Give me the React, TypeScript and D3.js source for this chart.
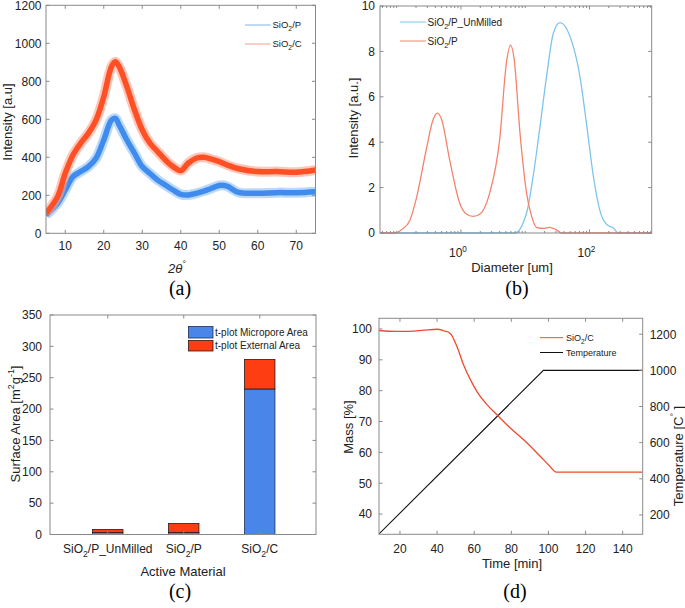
import React from 'react';
import * as d3 from 'd3';

// ---------- Data ----------
// (a) XRD
const xrdTheta = [5, 8, 10, 12, 14, 16, 18, 20, 22, 23, 24, 26, 28, 30, 32, 34, 36, 38, 40, 42, 44, 46, 48, 50, 52, 55, 60, 65, 70, 75];
const xrdSiO2C = [105, 193, 316, 412, 474, 526, 596, 719, 877, 903, 877, 772, 649, 544, 474, 430, 386, 351, 330, 370, 395, 400, 390, 377, 360, 340, 325, 325, 321, 333];
const xrdSiO2P = [96, 158, 228, 298, 325, 351, 395, 491, 596, 605, 570, 491, 421, 351, 315, 280, 254, 228, 205, 202, 210, 222, 237, 252, 248, 215, 211, 214, 214, 219];
const xrdXTicks = [10, 20, 30, 40, 50, 60, 70];
const xrdYTicks = [0, 200, 400, 600, 800, 1000, 1200];

// (b) Particle size distribution
const psdUnmilledD = [0.05, 6.9, 10.5, 13.3, 17, 21.5, 27.4, 34.7, 50, 71, 91, 115, 145, 186, 235, 282, 1000];
const psdUnmilledI = [0, 0, 0.88, 2.5, 4.7, 6.9, 8.8, 9.27, 8.65, 6.9, 4.7, 2.5, 1.0, 0.37, 0.22, 0, 0];
const psdMilledD = [0.05, 0.094, 0.12, 0.16, 0.2, 0.29, 0.36, 0.43, 0.5, 0.67, 0.96, 1.2, 1.55, 2.0, 2.8, 4.0, 5.1, 5.9, 6.7, 8.3, 10.5, 12.6, 15, 19, 24, 30, 37, 1000];
const psdMilledI = [0, 0, 0.15, 0.55, 1.47, 3.7, 4.9, 5.28, 5.0, 3.2, 1.3, 0.85, 0.73, 0.85, 1.76, 4.1, 7.5, 8.28, 7.7, 4.4, 1.76, 0.73, 0.25, 0.2, 0.25, 0.15, 0, 0];
const psdYTicks = [0, 2, 4, 6, 8, 10];
const psdMajorTicks = [1, 100];

// (c) Surface area
const saCategories = ['SiO2/P_UnMilled', 'SiO2/P', 'SiO2/C'];
const saMicropore = [3.2, 3.2, 232];
const saExternal = [4.8, 14.3, 47];
const saYTicks = [0, 50, 100, 150, 200, 250, 300, 350];

// (d) TGA
const tgaTime = [8.7, 18, 25, 33, 40, 43.6, 47, 50.7, 54.3, 58, 61.5, 67, 72.4, 79.6, 86.8, 95.8, 100, 104.3, 150.8];
const tgaMass = [99.5, 99.2, 99.2, 99.6, 99.9, 99.4, 98.6, 94.3, 88.3, 83.5, 79.7, 75.4, 72.1, 67.8, 64, 58.6, 56, 53.6, 53.6];
const tempTime = [8.7, 97.3, 150.8];
const tempValue = [95, 1000, 1000];
const tgaXTicks = [20, 40, 60, 80, 100, 120, 140];
const tgaLeftTicks = [40, 50, 60, 70, 80, 90, 100];
const tgaRightTicks = [200, 400, 600, 800, 1000, 1200];

// ---------- Style ----------
const AX = '#8a8a8a';
const TXT = '#222';
const SANS = '"Liberation Sans", Arial, Helvetica, sans-serif';
const SERIF = '"Liberation Serif", "Times New Roman", serif';
const TL = 3.5;

function SiO2({ rest, size }: { rest: string; size: number }) {
  return (
    <>
      <tspan>SiO</tspan>
      <tspan baselineShift={-size * 0.3} fontSize={size * 0.72}>2</tspan>
      <tspan>{rest}</tspan>
    </>
  );
}

function Sup({ children, size }: { children: React.ReactNode; size: number }) {
  return <tspan baselineShift={size * 0.45} fontSize={size * 0.68}>{children}</tspan>;
}

function Box({ l, r, t, b }: { l: number; r: number; t: number; b: number }) {
  return <rect x={l} y={t} width={r - l} height={b - t} fill="none" stroke={AX} strokeWidth={1} />;
}

export default function App() {
  // ----- Panel A -----
  const aL = 46, aR = 315.5, aT = 5.3, aB = 233.3;
  const ax = d3.scaleLinear().domain([5, 75]).range([aL, aR]);
  const ay = d3.scaleLinear().domain([0, 1200]).range([aB, aT]);
  const lineA = (vals: number[]) =>
    d3.line<number>().x((_, i) => ax(xrdTheta[i])).y((d) => ay(d)).curve(d3.curveCatmullRom)(vals) || '';

  // ----- Panel B -----
  const bL = 380, bR = 651.7, bT = 6, bB = 233;
  const bx = d3.scaleLog().domain([0.055, 930]).range([bL, bR]);
  const by = d3.scaleLinear().domain([0, 10]).range([bB, bT]);
  const lineB = (ds: number[], vs: number[]) =>
    d3.line<number>().x((_, i) => bx(ds[i])).y((d) => by(d)).curve(d3.curveMonotoneX)(vs) || '';
  const minorB: number[] = [];
  [0.01, 0.1, 1, 10, 100].forEach((dec) => {
    for (let k = 1; k <= 9; k++) {
      const v = dec * k;
      if (v >= 0.055 && v <= 930 && !psdMajorTicks.includes(v)) minorB.push(v);
    }
  });

  // ----- Panel C -----
  const cL = 50, cR = 316, cT = 315, cB = 534.5;
  const cx = d3.scaleLinear().domain([0.24, 3.74]).range([cL, cR]);
  const cy = d3.scaleLinear().domain([0, 350]).range([cB, cT]);
  const barW = cx(1.4) - cx(1);

  // ----- Panel D -----
  const dL = 379, dR = 642.7, dT = 318.3, dB = 534.3;
  const dx = d3.scaleLinear().domain([8.7, 150.8]).range([dL, dR]);
  const dyL = d3.scaleLinear().domain([33.45, 103.45]).range([dB, dT]);
  const dyR = d3.scaleLinear().domain([93, 1288]).range([dB, dT]);
  const massPath = d3.line<number>().x((_, i) => dx(tgaTime[i])).y((d) => dyL(d)).curve(d3.curveMonotoneX)(tgaMass) || '';
  const tempPath = d3.line<number>().x((_, i) => dx(tempTime[i])).y((d) => dyR(d))(tempValue) || '';

  const tick = { stroke: AX, strokeWidth: 1 };

  return (
    <svg width={685} height={608} style={{ position: 'absolute', left: 0, top: 0, background: '#fff' }} fontFamily={SANS}>
      <defs>
        <clipPath id="clipA"><rect x={aL} y={aT} width={aR - aL} height={aB - aT} /></clipPath>
        <clipPath id="clipB"><rect x={bL} y={bT - 2} width={bR - bL} height={bB - bT + 4} /></clipPath>
        <clipPath id="clipD"><rect x={dL} y={dT} width={dR - dL} height={dB - dT} /></clipPath>
      </defs>

      {/* ================= Panel A ================= */}
      <g>
        <g clipPath="url(#clipA)">
          <path d={lineA(xrdSiO2P)} fill="none" stroke="#8ec0f4" strokeWidth={10} strokeOpacity={0.6} />
          <path d={lineA(xrdSiO2P)} fill="none" stroke="#3f8cee" strokeWidth={5.5} />
          <path d={lineA(xrdSiO2C)} fill="none" stroke="#ffa28c" strokeWidth={10} strokeOpacity={0.6} />
          <path d={lineA(xrdSiO2C)} fill="none" stroke="#ff5025" strokeWidth={5.5} />
        </g>
        <Box l={aL} r={aR} t={aT} b={aB} />
        {xrdXTicks.map((v) => (
          <g key={'ax' + v}>
            <line x1={ax(v)} x2={ax(v)} y1={aB} y2={aB - TL} {...tick} />
            <line x1={ax(v)} x2={ax(v)} y1={aT} y2={aT + TL} {...tick} />
            <text x={ax(v)} y={aB + 17} textAnchor="middle" fontSize={12} fill={TXT}>{v}</text>
          </g>
        ))}
        {xrdYTicks.map((v) => (
          <g key={'ay' + v}>
            <line x1={aL} x2={aL + TL} y1={ay(v)} y2={ay(v)} {...tick} />
            <line x1={aR} x2={aR - TL} y1={ay(v)} y2={ay(v)} {...tick} />
            <text x={aL - 4.5} y={ay(v) + 4.3} textAnchor="end" fontSize={12} fill={TXT}>{v}</text>
          </g>
        ))}
        {/* legend */}
        <line x1={245} x2={270.5} y1={25} y2={25} stroke="#7fb4ec" strokeWidth={1} />
        <text x={272.5} y={28.3} fontSize={9.5} fill={TXT}><SiO2 rest="/P" size={9.5} /></text>
        <line x1={245} x2={270.5} y1={44} y2={44} stroke="#f79c8a" strokeWidth={1} />
        <text x={272.5} y={47.3} fontSize={9.5} fill={TXT}><SiO2 rest="/C" size={9.5} /></text>
        {/* labels */}
        <text transform={`translate(12,122) rotate(-90)`} textAnchor="middle" fontSize={13} fill={TXT}>Intensity [a.u]</text>
        <text x={177} y={273} textAnchor="middle" fontSize={13} fill={TXT}>
          <tspan fontStyle="italic">2θ</tspan>
          <Sup size={13}>°</Sup>
        </text>
        <text x={180} y={295} textAnchor="middle" fontSize={20} fontFamily={SERIF} fill="#000">(a)</text>
      </g>

      {/* ================= Panel B ================= */}
      <g>
        <g clipPath="url(#clipB)">
          <path d={lineB(psdUnmilledD, psdUnmilledI)} fill="none" stroke="#7cc4ee" strokeWidth={1.3} />
          <path d={lineB(psdMilledD, psdMilledI)} fill="none" stroke="#f5836c" strokeWidth={1.3} />
        </g>
        <Box l={bL} r={bR} t={bT} b={bB} />
        {psdMajorTicks.map((v, i) => (
          <g key={'bx' + v}>
            <line x1={bx(v)} x2={bx(v)} y1={bB} y2={bB - TL} {...tick} />
            <line x1={bx(v)} x2={bx(v)} y1={bT} y2={bT + TL} {...tick} />
            <text x={bx(v) - 3} y={256.5} textAnchor="middle" fontSize={12} fill={TXT}>
              10<Sup size={12}>{i === 0 ? '0' : '2'}</Sup>
            </text>
          </g>
        ))}
        {minorB.map((v) => (
          <g key={'bm' + v}>
            <line x1={bx(v)} x2={bx(v)} y1={bB} y2={bB - 2} {...tick} />
            <line x1={bx(v)} x2={bx(v)} y1={bT} y2={bT + 2} {...tick} />
          </g>
        ))}
        {psdYTicks.map((v) => (
          <g key={'by' + v}>
            <line x1={bL} x2={bL + TL} y1={by(v)} y2={by(v)} {...tick} />
            <line x1={bR} x2={bR - TL} y1={by(v)} y2={by(v)} {...tick} />
            <text x={bL - 5} y={by(v) + 4.3} textAnchor="end" fontSize={12} fill={TXT}>{v}</text>
          </g>
        ))}
        {/* legend */}
        <line x1={400} x2={426} y1={22} y2={22} stroke="#7cc4ee" strokeWidth={1} />
        <text x={427.5} y={25.5} fontSize={10} fill={TXT}><SiO2 rest="/P_UnMilled" size={10} /></text>
        <line x1={400} x2={426} y1={41} y2={41} stroke="#f5836c" strokeWidth={1} />
        <text x={427.5} y={44.5} fontSize={10} fill={TXT}><SiO2 rest="/P" size={10} /></text>
        {/* labels */}
        <text transform={`translate(357.5,118) rotate(-90)`} textAnchor="middle" fontSize={13} fill={TXT}>Intensity [a.u.]</text>
        <text x={512} y={272} textAnchor="middle" fontSize={13} fill={TXT}>Diameter [um]</text>
        <text x={517} y={295} textAnchor="middle" fontSize={20} fontFamily={SERIF} fill="#000">(b)</text>
      </g>

      {/* ================= Panel C ================= */}
      <g>
        {saCategories.map((c, i) => {
          const xc = cx(i + 1);
          const m = saMicropore[i];
          const e = saExternal[i];
          return (
            <g key={'bar' + c}>
              <rect x={xc - barW / 2} y={cy(m)} width={barW} height={cy(0) - cy(m)} fill="#4a86ea" stroke="#1f2f55" strokeWidth={0.8} />
              <rect x={xc - barW / 2} y={cy(m + e)} width={barW} height={cy(m) - cy(m + e)} fill="#ff3d12" stroke="#2a1a14" strokeWidth={0.8} />
            </g>
          );
        })}
        <Box l={cL} r={cR} t={cT} b={cB} />
        {saCategories.map((c, i) => {
          const xc = cx(i + 1);
          const rest = c.slice(4);
          return (
            <g key={'cx' + c}>
              <line x1={xc} x2={xc} y1={cB} y2={cB - TL} {...tick} />
              <line x1={xc} x2={xc} y1={cT} y2={cT + TL} {...tick} />
              <text x={xc} y={553} textAnchor="middle" fontSize={12} fill={TXT}><SiO2 rest={rest} size={12} /></text>
            </g>
          );
        })}
        {saYTicks.map((v) => (
          <g key={'cy' + v}>
            <line x1={cL} x2={cL + TL} y1={cy(v)} y2={cy(v)} {...tick} />
            <line x1={cR} x2={cR - TL} y1={cy(v)} y2={cy(v)} {...tick} />
            <text x={cL - 8} y={cy(v) + 4.3} textAnchor="end" fontSize={12} fill={TXT}>{v}</text>
          </g>
        ))}
        {/* legend */}
        <rect x={188.5} y={326.5} width={24.5} height={11.5} fill="#4a86ea" stroke="#1f2f55" strokeWidth={0.8} />
        <text x={215} y={335.8} fontSize={10} fill={TXT}>t-plot Micropore Area</text>
        <rect x={188.5} y={340.5} width={24.5} height={10.5} fill="#ff3d12" stroke="#2a1a14" strokeWidth={0.8} />
        <text x={215} y={349.3} fontSize={10} fill={TXT}>t-plot External Area</text>
        {/* labels */}
        <text transform={`translate(19.5,424) rotate(-90)`} textAnchor="middle" fontSize={13} fill={TXT}>
          <tspan>Surface Area [m</tspan>
          <Sup size={13}>2</Sup>
          <tspan>g</tspan>
          <Sup size={13}>-1</Sup>
          <tspan>]</tspan>
        </text>
        <text x={183} y={576} textAnchor="middle" fontSize={13} fill={TXT}>Active Material</text>
        <text x={180} y={598} textAnchor="middle" fontSize={20} fontFamily={SERIF} fill="#000">(c)</text>
      </g>

      {/* ================= Panel D ================= */}
      <g>
        <g clipPath="url(#clipD)">
          <path d={tempPath} fill="none" stroke="#111" strokeWidth={1.1} />
          <path d={massPath} fill="none" stroke="#f04a2e" strokeWidth={1.3} />
        </g>
        <Box l={dL} r={dR} t={dT} b={dB} />
        {tgaXTicks.map((v) => (
          <g key={'dx' + v}>
            <line x1={dx(v)} x2={dx(v)} y1={dB} y2={dB - TL} {...tick} />
            <line x1={dx(v)} x2={dx(v)} y1={dT} y2={dT + TL} {...tick} />
            <text x={dx(v)} y={553} textAnchor="middle" fontSize={12} fill={TXT}>{v}</text>
          </g>
        ))}
        {tgaLeftTicks.map((v) => (
          <g key={'dl' + v}>
            <line x1={dL} x2={dL + TL} y1={dyL(v)} y2={dyL(v)} {...tick} />
            <text x={dL - 7} y={dyL(v) + 4.3} textAnchor="end" fontSize={12} fill={TXT}>{v}</text>
          </g>
        ))}
        {tgaRightTicks.map((v) => (
          <g key={'dr' + v}>
            <line x1={dR} x2={dR - TL} y1={dyR(v)} y2={dyR(v)} {...tick} />
            <text x={dR + 7} y={dyR(v) + 4.3} textAnchor="start" fontSize={12} fill={TXT}>{v}</text>
          </g>
        ))}
        {/* legend */}
        <line x1={540} x2={563} y1={337.7} y2={337.7} stroke="#f04a2e" strokeWidth={1} />
        <text x={566} y={340.8} fontSize={9} fill={TXT}><SiO2 rest="/C" size={9} /></text>
        <line x1={540} x2={563} y1={352.5} y2={352.5} stroke="#111" strokeWidth={1} />
        <text x={566} y={355.6} fontSize={9} fill={TXT}>Temperature</text>
        {/* labels */}
        <text transform={`translate(352.5,427) rotate(-90)`} textAnchor="middle" fontSize={13} fill={TXT}>Mass [%]</text>
        <text transform={`translate(682.5,456) rotate(-90)`} textAnchor="middle" fontSize={13} fill={TXT}>
          <tspan>Temperature [C</tspan>
          <Sup size={13}>°</Sup>
          <tspan> ]</tspan>
        </text>
        <text x={512} y={568} textAnchor="middle" fontSize={13} fill={TXT}>Time [min]</text>
        <text x={515} y={598} textAnchor="middle" fontSize={20} fontFamily={SERIF} fill="#000">(d)</text>
      </g>
    </svg>
  );
}
